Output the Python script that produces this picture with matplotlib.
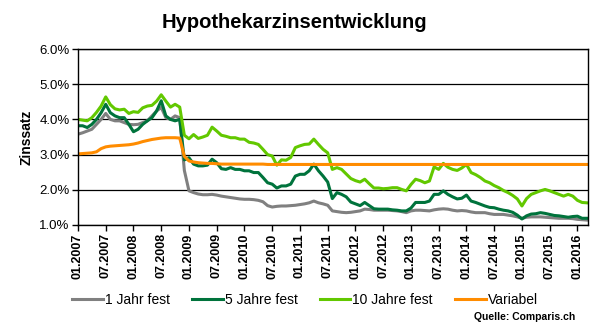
import matplotlib
matplotlib.use('Agg')
import matplotlib.pyplot as plt

# monthly values, Jan 2007 .. Mar 2016
jahr1 = [3.58, 3.62, 3.67, 3.72, 3.86, 4.00, 4.17, 4.00, 3.96, 3.96, 3.91, 3.86,
         3.85, 3.86, 3.91, 3.96, 4.10, 4.24, 4.34, 4.05, 4.00, 4.10, 4.05, 2.55,
         1.97, 1.92, 1.88, 1.86, 1.86, 1.87, 1.85, 1.82, 1.80, 1.78, 1.76, 1.74,
         1.73, 1.73, 1.72, 1.70, 1.66, 1.55, 1.51, 1.53, 1.54, 1.54, 1.55, 1.56,
         1.58, 1.60, 1.63, 1.68, 1.63, 1.60, 1.56, 1.40, 1.38, 1.36, 1.35, 1.36,
         1.38, 1.40, 1.45, 1.44, 1.42, 1.42, 1.42, 1.42, 1.41, 1.40, 1.38, 1.35,
         1.40, 1.42, 1.42, 1.41, 1.40, 1.43, 1.45, 1.46, 1.45, 1.42, 1.40, 1.41,
         1.40, 1.37, 1.35, 1.35, 1.35, 1.32, 1.30, 1.30, 1.30, 1.28, 1.26, 1.23,
         1.19, 1.22, 1.23, 1.23, 1.23, 1.22, 1.21, 1.20, 1.19, 1.19, 1.19, 1.18,
         1.16, 1.15, 1.14]

jahre5 = [3.82, 3.82, 3.77, 3.86, 4.00, 4.19, 4.43, 4.19, 4.10, 4.05, 4.05, 3.86,
          3.65, 3.72, 3.86, 3.96, 4.05, 4.24, 4.53, 4.10, 4.00, 3.96, 4.00, 2.85,
          2.91, 2.73, 2.68, 2.68, 2.70, 2.87, 2.77, 2.60, 2.58, 2.63, 2.58, 2.58,
          2.54, 2.54, 2.49, 2.49, 2.35, 2.20, 2.16, 2.05, 2.11, 2.11, 2.16, 2.39,
          2.44, 2.44, 2.54, 2.73, 2.54, 2.39, 2.22, 1.75, 1.92, 1.87, 1.80, 1.65,
          1.60, 1.55, 1.64, 1.55, 1.46, 1.45, 1.45, 1.45, 1.43, 1.42, 1.40, 1.40,
          1.48, 1.64, 1.64, 1.64, 1.68, 1.87, 1.87, 1.97, 1.87, 1.80, 1.74, 1.76,
          1.85, 1.68, 1.64, 1.59, 1.54, 1.50, 1.49, 1.45, 1.42, 1.40, 1.36, 1.28,
          1.17, 1.26, 1.31, 1.32, 1.35, 1.33, 1.30, 1.27, 1.26, 1.24, 1.22, 1.24,
          1.25, 1.19, 1.19]

jahre10 = [4.00, 3.98, 3.96, 4.05, 4.20, 4.38, 4.64, 4.42, 4.30, 4.27, 4.29, 4.17,
           4.22, 4.20, 4.33, 4.38, 4.40, 4.52, 4.70, 4.52, 4.35, 4.43, 4.35, 3.55,
           3.45, 3.57, 3.46, 3.50, 3.55, 3.78, 3.67, 3.55, 3.52, 3.48, 3.48, 3.44,
           3.44, 3.35, 3.33, 3.29, 3.15, 3.00, 2.96, 2.70, 2.85, 2.84, 2.92, 3.20,
           3.25, 3.29, 3.30, 3.44, 3.29, 3.15, 3.05, 2.58, 2.63, 2.58, 2.45, 2.32,
           2.26, 2.22, 2.30, 2.17, 2.05, 2.05, 2.03, 2.04, 2.06, 2.06, 2.01, 1.97,
           2.15, 2.30, 2.26, 2.20, 2.25, 2.65, 2.58, 2.75, 2.64, 2.58, 2.55, 2.62,
           2.72, 2.49, 2.43, 2.35, 2.25, 2.20, 2.12, 2.06, 1.98, 1.92, 1.84, 1.74,
           1.54, 1.75, 1.87, 1.92, 1.97, 2.01, 1.97, 1.92, 1.87, 1.82, 1.87, 1.82,
           1.70, 1.64, 1.63]

variabel = [3.02, 3.03, 3.04, 3.05, 3.08, 3.17, 3.22, 3.24, 3.25, 3.26, 3.27, 3.28,
            3.30, 3.33, 3.37, 3.40, 3.43, 3.45, 3.47, 3.48, 3.48, 3.48, 3.47, 2.95,
            2.82, 2.79, 2.77, 2.76, 2.75, 2.75, 2.74, 2.73, 2.73, 2.73, 2.73, 2.73,
            2.73, 2.73, 2.73, 2.73, 2.73, 2.72, 2.72, 2.72, 2.72, 2.72, 2.72, 2.72,
            2.72, 2.72, 2.72, 2.72, 2.72, 2.72, 2.72, 2.72, 2.72, 2.72, 2.72, 2.72,
            2.72, 2.72, 2.72, 2.72, 2.72, 2.72, 2.72, 2.72, 2.72, 2.72, 2.72, 2.72,
            2.72, 2.72, 2.72, 2.72, 2.72, 2.72, 2.72, 2.72, 2.72, 2.72, 2.72, 2.72,
            2.72, 2.72, 2.72, 2.72, 2.72, 2.72, 2.72, 2.72, 2.72, 2.72, 2.72, 2.72,
            2.72, 2.72, 2.72, 2.72, 2.72, 2.72, 2.72, 2.72, 2.72, 2.72, 2.72, 2.72,
            2.72, 2.72, 2.72]

tick_labels = ['01.2007', '07.2007', '01.2008', '07.2008', '01.2009', '07.2009',
               '01.2010', '07.2010', '01.2011', '07.2011', '01.2012', '07.2012',
               '01.2013', '07.2013', '01.2014', '07.2014', '01.2015', '07.2015',
               '01.2016']

series = [('1 Jahr fest', jahr1, '#808080'),
          ('5 Jahre fest', jahre5, '#00733C'),
          ('10 Jahre fest', jahre10, '#62C800'),
          ('Variabel', variabel, '#FF8C00')]

plt.rcParams['font.family'] = ['Liberation Sans', 'DejaVu Sans']

fig = plt.figure(figsize=(5.98, 3.27), dpi=100)
ax = fig.add_axes([0.1304, 0.312, 0.853, 0.538])

months = list(range(len(jahr1)))
for name, values, color in series:
    ax.plot(months, values, color=color, linewidth=2.2, label=name)

ax.set_ylim(1, 6)
ax.set_yticks([1, 2, 3, 4, 5, 6])
ax.set_yticklabels(['%.1f%%' % v for v in [1, 2, 3, 4, 5, 6]], fontsize=9.5)
ax.set_xlim(0, 110.3)
ax.set_xticks(range(0, 6 * len(tick_labels), 6))
ax.set_xticklabels(tick_labels, rotation=90, fontsize=9, fontweight='bold')
ax.tick_params(axis='both', direction='out', length=4, width=1, pad=2)
ax.grid(axis='y', color='black', linewidth=0.9)
ax.set_axisbelow(True)
for sp in ax.spines.values():
    sp.set_color('black')
    sp.set_linewidth(1)

ax.set_ylabel('Zinssatz', fontsize=10, fontweight='bold', labelpad=4)
fig.suptitle('Hypothekarzinsentwicklung', x=0.493, y=0.96, fontsize=14.5,
             fontweight='bold')

fig.legend(loc='center', bbox_to_anchor=(0.51, 0.083), ncol=4, frameon=False,
           fontsize=10, handlelength=2.2, handletextpad=0.15, columnspacing=1.6)
fig.text(0.962, 0.03, 'Quelle: Comparis.ch', ha='right', va='center',
         fontsize=7.5, fontweight='bold')

fig.savefig('out.png', dpi=100)
